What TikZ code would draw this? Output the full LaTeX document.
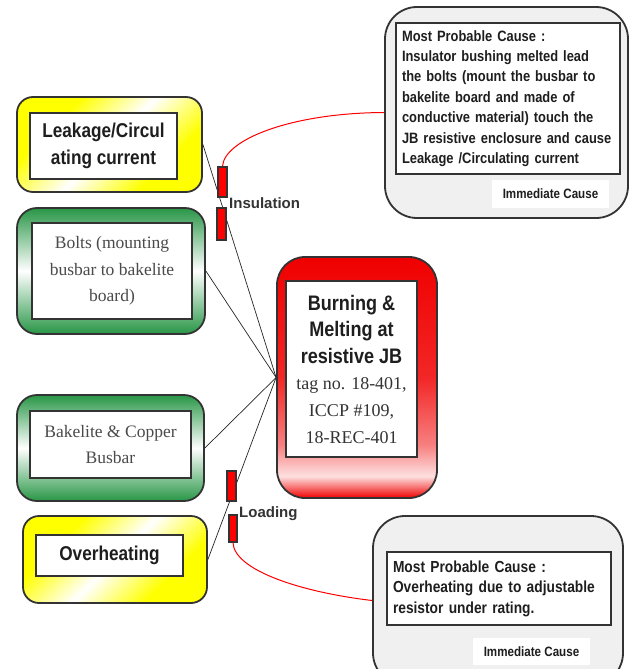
\documentclass[tikz,border=0pt]{standalone}
\usepackage{fontspec}
\setmainfont{Liberation Serif}
\newfontfamily\narrowb[FakeStretch=0.86]{Liberation Sans}
\newfontfamily\arialf{Liberation Sans}
\definecolor{ink}{HTML}{333333}
\definecolor{txt}{HTML}{1E1E1E}
\definecolor{serifgray}{HTML}{4A4A4A}
\definecolor{mygreen}{RGB}{40,150,70}
\definecolor{myred}{RGB}{240,0,0}
\definecolor{panel}{HTML}{F0F0F0}
\pgfdeclareverticalshading{redfade}{100bp}{color(0bp)=(myred); color(25bp)=(myred); color(29.5bp)=(myred!12!white); color(36bp)=(myred!50!white); color(50bp)=(myred!85!white); color(75bp)=(myred); color(100bp)=(myred)}
\pgfdeclareverticalshading{yfade}{100bp}{color(0bp)=(yellow); color(31bp)=(yellow); color(50bp)=(white); color(69bp)=(yellow); color(100bp)=(yellow)}
\tikzset{
  ybox/.style={draw=ink, line width=1.8pt, rounded corners=16pt, shade, shading=yfade, shading angle=45},
  gbox/.style={draw=ink, line width=1.8pt, rounded corners=20pt, top color=mygreen, bottom color=mygreen, middle color=white},
  rbox/.style={draw=ink, line width=1.8pt, rounded corners=28pt, shade, shading=redfade},
  pbox/.style={draw=ink, line width=1.8pt, rounded corners=32pt, fill=panel},
  inbox/.style={draw=ink, line width=1.3pt, fill=white, inner sep=0pt},
  tagbox/.style={fill=white, inner sep=0pt, minimum width=117pt, text=txt, font={\narrowb\bfseries\fontsize{13.5}{16}\selectfont}},
  redtab/.style={draw=ink, line width=1.2pt, fill=red, inner sep=0pt},
  link/.style={draw=black!85, line width=0.7pt},
  redlink/.style={draw=red, line width=1pt},
  boldtxt/.style={text=txt, font={\narrowb\bfseries\fontsize{20}{27}\selectfont}, align=center},
  seriftxt/.style={text=serifgray, font={\fontsize{17.5}{26.5}\selectfont}, align=center},
  lbl/.style={text=ink, inner sep=0pt, anchor=west, font={\arialf\bfseries\fontsize{15}{18}\selectfont}}
}
\begin{document}
\begin{tikzpicture}[x=1pt,y=-1pt]
\path[use as bounding box, clip] (0,0) rectangle (629,669);
\fill[white] (0,0) rectangle (629,669);

% left boxes
\node[ybox, minimum width=185pt, minimum height=95pt] (leak) at (109.5,144.5) {};
\node[inbox, boldtxt, minimum width=147pt, minimum height=66pt] (leakin) at (103.5,146) {Leakage/Circul\\ating current};

\node[gbox, minimum width=188pt, minimum height=126pt] (bolts) at (111,271) {};
\node[inbox, seriftxt, minimum width=160pt, minimum height=96pt] (boltsin) at (112,271) {Bolts (mounting\\busbar to bakelite\\board)};

\node[gbox, minimum width=187pt, minimum height=106pt] (bake) at (110.5,448) {};
\node[inbox, seriftxt, minimum width=161pt, minimum height=67pt] (bakein) at (110.5,444.5) {Bakelite \& Copper\\Busbar};

\node[ybox, minimum width=184pt, minimum height=87pt] (over) at (115,559.5) {};
\node[inbox, boldtxt, minimum width=147pt, minimum height=41pt] (overin) at (109.5,555.5) {Overheating};

% central box
\node[rbox, minimum width=160pt, minimum height=241pt] (jb) at (357,377.5) {};
\node[inbox, align=center, text=txt, minimum width=131pt, minimum height=176pt,
      font={\narrowb\bfseries\fontsize{21}{26.6}\selectfont}] (jbin) at (351.5,369)
  {Burning \&\\Melting at\\resistive JB\\{\rmfamily\mdseries\color{ink}\fontsize{18}{26.6}\selectfont tag no. 18-401,}\\{\rmfamily\mdseries\color{ink}\fontsize{18}{26.6}\selectfont ICCP \#109,}\\{\rmfamily\mdseries\color{ink}\fontsize{18}{26.6}\selectfont 18-REC-401}};

% right panels
\node[pbox, minimum width=243pt, minimum height=211pt] (tr) at (506.5,112.5) {};
\node[inbox, text=txt, align=left, text width=212pt, inner xsep=6pt, minimum height=151pt,
      font={\narrowb\bfseries\fontsize{15}{20.4}\selectfont}] (trin) at (508,98.5)
  {Most Probable Cause :\\Insulator bushing melted lead\\the bolts (mount the busbar to\\bakelite board and made of\\conductive material) touch the\\JB resistive enclosure and cause\\Leakage /Circulating current};
\node[tagbox, minimum height=28pt] (trtag) at (550.5,194) {Immediate Cause};

\node[pbox, minimum width=250pt, minimum height=169pt] (br) at (498,600.5) {};
\node[inbox, text=txt, align=left, text width=212pt, inner xsep=6pt, minimum height=73pt,
      font={\narrowb\bfseries\fontsize{16}{20.5}\selectfont}] (brin) at (499,588.5)
  {Most Probable Cause :\\Overheating due to adjustable\\resistor under rating.};
\node[tagbox, minimum height=27pt] (brtag) at (531.5,651.5) {Immediate Cause};

% black connectors
\draw[link] (leak.east) -- (jb.west);
\draw[link] (bolts.east) -- (jb.west);
\draw[link] (bake.east) -- (jb.west);
\draw[link] (over.east) -- (jb.west);

% red tabs
\node[redtab, minimum width=9pt, minimum height=30pt] (ins1) at (222.5,182) {};
\node[redtab, minimum width=9pt, minimum height=32pt] (ins2) at (221.5,224) {};
\node[redtab, minimum width=9pt, minimum height=30pt] (load1) at (231.5,486) {};
\node[redtab, minimum width=8pt, minimum height=27pt] (load2) at (233,528.5) {};

% red connectors
\draw[redlink] (ins1.north) .. controls (224,140) and (290,113) .. (tr.west);
\draw[redlink] (load2.south) .. controls (234,570) and (300,592) .. (br.west);

% labels
\node[lbl] (inslbl) at (229,203) {Insulation};
\node[lbl] (loadlbl) at (239,514) {Loading};
\end{tikzpicture}
\end{document}
